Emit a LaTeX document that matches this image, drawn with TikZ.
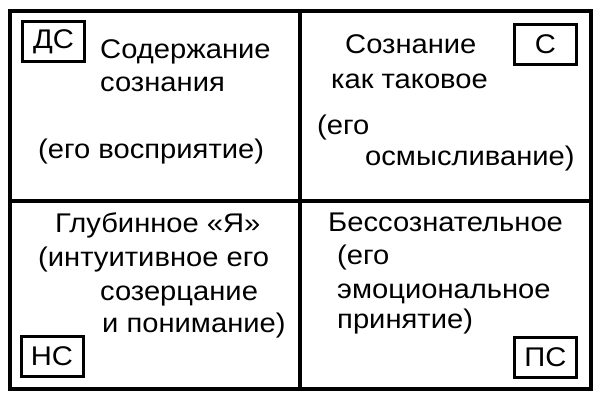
\documentclass[tikz,border=0pt]{standalone}
\usepackage{fontspec}
\setmainfont{Liberation Sans}[FakeStretch=1.08]
\begin{document}
\begin{tikzpicture}[x=1pt,y=-1pt,
  frame/.style={line width=3.5pt},
  tag/.style={draw,line width=3pt,minimum width=62pt,minimum height=40pt,inner sep=0pt,font=\fontsize{27}{27}\selectfont},
  txt/.style={anchor=base west,inner sep=0pt,font=\fontsize{27}{27}\selectfont}]
\useasboundingbox (0,0) rectangle (600,400);
\draw[frame] (10,11) rectangle (591,389);
\draw[frame] (300,11) -- (300,389);
\draw[frame] (10,201) -- (591,201);
% tags
\node[tag] (ds) at (53.5,41.5) {ДС};
\node[tag] (s) at (545.5,44.5) {С};
\node[tag] (ns) at (52,356.5) {НС};
\node[tag] (ps) at (545.5,357.5) {ПС};
% top left
\node[txt] (tl1) at (100,58) {Содержание};
\node[txt] (tl2) at (100,91) {сознания};
\node[txt] (tl3) at (38,158) {(его восприятие)};
% top right
\node[txt] (tr1) at (345,53) {Сознание};
\node[txt] (tr2) at (331,88) {как таковое};
\node[txt] (tr3) at (317,134) {(его};
\node[txt] (tr4) at (365,165) {осмысливание)};
% bottom left
\node[txt] (bl1) at (55,232) {Глубинное «Я»};
\node[txt] (bl2) at (38,266) {(интуитивное его};
\node[txt] (bl3) at (100,300) {созерцание};
\node[txt] (bl4) at (102,332) {и понимание)};
% bottom right
\node[txt] (br1) at (328,231) {Бессознательное};
\node[txt] (br2) at (337,264) {(его};
\node[txt] (br3) at (337,298) {эмоциональное};
\node[txt] (br4) at (337,328) {принятие)};
\end{tikzpicture}
\end{document}
